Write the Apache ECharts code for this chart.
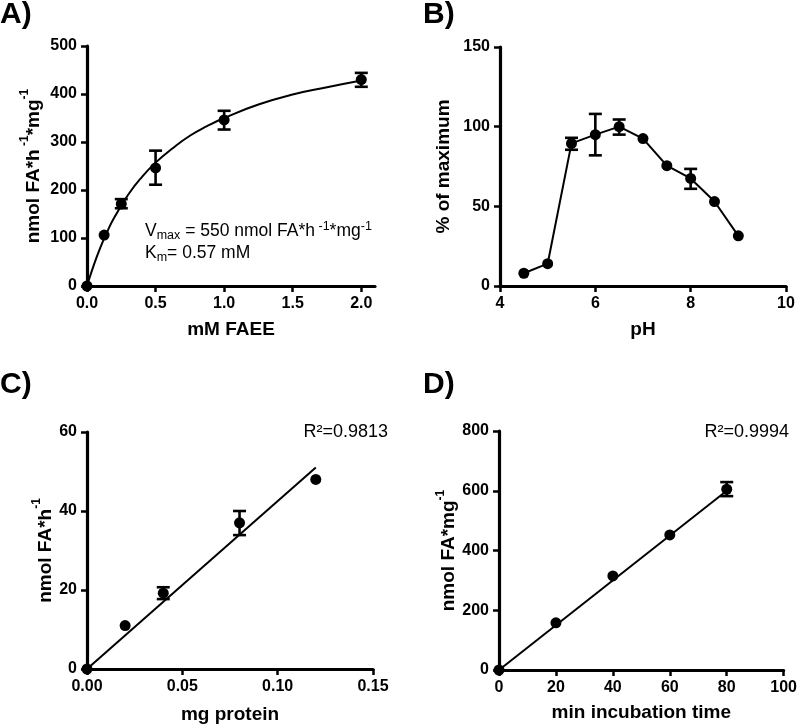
<!DOCTYPE html>
<html>
<head>
<meta charset="utf-8">
<script src="https://cdn.jsdelivr.net/npm/echarts@6/dist/echarts.min.js"></script>
<style>html,body{margin:0;padding:0;background:#fff;}#c{width:800px;height:728px;}</style>
</head>
<body>
<div id="c"></div>
<script>
// ---- Panel A: Michaelis-Menten ----
const aPoints = [[0,0],[0.125,106],[0.25,171],[0.5,246],[1.0,346],[2.0,430]];
const aErr = [[0.25,162,181],[0.5,211,282],[1.0,326,365],[2.0,415,444]];
const aCurve = [[0,0],[0.05,44],[0.1,82],[0.15,115],[0.2,143],[0.3,190],[0.4,227],[0.5,257],[0.625,287],[0.75,313],[0.875,333],[1.0,350],[1.25,378],[1.5,399],[1.75,414],[2.0,428]];
const aXTicks = [0,0.5,1,1.5,2];
const aYTicks = [0,100,200,300,400,500];
// ---- Panel B: pH ----
const bPoints = [[4.5,8],[5.0,14],[5.5,89.5],[6.0,95],[6.5,100],[7.0,92.5],[7.5,75.5],[8.0,67.5],[8.5,53],[9.0,31.5]];
const bErr = [[5.5,85.5,93],[6.0,82,108],[6.5,95,104.5],[8.0,61,73.5]];
const bXTicks = [4,6,8,10];
const bYTicks = [0,50,100,150];
// ---- Panel C: protein ----
const cPoints = [[0,0],[0.02,11],[0.04,19.2],[0.08,37],[0.12,48]];
const cErr = [[0.04,17.7,20.7],[0.08,33.9,40]];
const cFit = [[0,0],[0.12,51]];
const cXTicks = [0,0.05,0.1,0.15];
const cYTicks = [0,20,40,60];
// ---- Panel D: time ----
const dPoints = [[0,0],[20,158],[40,315],[60,452],[80,605]];
const dErr = [[80,582,629]];
const dFit = [[0,0],[80,600]];
const dXTicks = [0,20,40,60,80,100];
const dYTicks = [0,200,400,600,800];

const chart = echarts.init(document.getElementById('c'), null, {renderer:'canvas'});
const FONT = 'Liberation Sans, Arial, sans-serif';
const BLACK = '#000';
const TFS = 19;

const grids = [
  {left:87, top:46, width:288, height:240},
  {left:500, top:47, width:286, height:239},
  {left:87, top:432, width:286, height:237},
  {left:499, top:431, width:287, height:239}
];

function xAxis(i, min, max, ticks, dec, name, gap) {
  return {
    type:'value', gridIndex:i, min:min, max:max,
    name:name, nameLocation:'middle', nameGap:gap,
    nameTextStyle:{fontFamily:FONT, fontWeight:'bold', fontSize:TFS, color:BLACK},
    axisLine:{show:true, onZero:false, lineStyle:{color:BLACK, width:3.2}},
    axisTick:{show:true, inside:false, length:6, lineStyle:{color:BLACK, width:2.5}, customValues:ticks},
    axisLabel:{show:true, margin:10, fontFamily:FONT, fontWeight:'bold', fontSize:16, color:BLACK, customValues:ticks,
      formatter:(v)=> dec>0 ? Number(v).toFixed(dec) : String(Math.round(v)), showMinLabel:true, showMaxLabel:true},
    splitLine:{show:false}
  };
}
function yAxis(i, min, max, ticks, name, gap) {
  return {
    type:'value', gridIndex:i, min:min, max:max,
    name:name, nameLocation:'middle', nameGap:gap, nameRotate:90,
    nameTextStyle:{fontFamily:FONT, fontWeight:'bold', fontSize:TFS, color:BLACK,
      rich:{
        b:{fontFamily:FONT, fontWeight:'bold', fontSize:TFS, color:BLACK, lineHeight:24, verticalAlign:'bottom'},
        s:{fontFamily:FONT, fontWeight:'bold', fontSize:12, color:BLACK, lineHeight:24, verticalAlign:'top'}
      }},
    axisLine:{show:true, onZero:false, lineStyle:{color:BLACK, width:3.2}},
    axisTick:{show:true, inside:false, length:6, lineStyle:{color:BLACK, width:2.5}, customValues:ticks},
    axisLabel:{show:true, margin:10, fontFamily:FONT, fontWeight:'bold', fontSize:16, color:BLACK, customValues:ticks},
    splitLine:{show:false}
  };
}

function errSeries(i, data) {
  return {
    type:'custom', xAxisIndex:i, yAxisIndex:i, data:data, clip:false, z:5,
    encode:{x:0, y:[1,2]},
    renderItem:function(params, api){
      const x = api.value(0), lo = api.value(1), hi = api.value(2);
      const pLo = api.coord([x, lo]), pHi = api.coord([x, hi]);
      const hw = 6.5;
      const st = {stroke:BLACK, lineWidth:2.6};
      return {type:'group', children:[
        {type:'line', shape:{x1:pLo[0], y1:pLo[1], x2:pHi[0], y2:pHi[1]}, style:st},
        {type:'line', shape:{x1:pLo[0]-hw, y1:pLo[1], x2:pLo[0]+hw, y2:pLo[1]}, style:st},
        {type:'line', shape:{x1:pHi[0]-hw, y1:pHi[1], x2:pHi[0]+hw, y2:pHi[1]}, style:st}
      ]};
    }
  };
}
function pts(i, data) {
  return {type:'scatter', xAxisIndex:i, yAxisIndex:i, data:data, symbol:'circle', symbolSize:11,
    itemStyle:{color:BLACK, opacity:1}, clip:false, z:6, silent:true};
}
function line(i, data, smooth) {
  return {type:'line', xAxisIndex:i, yAxisIndex:i, data:data, smooth:smooth, showSymbol:false, symbol:'none',
    lineStyle:{color:BLACK, width:2}, clip:false, z:4, silent:true, animation:false};
}

const option = {
  animation:false,
  backgroundColor:'#fff',
  grid:grids,
  xAxis:[
    xAxis(0, 0, 2.1, aXTicks, 1, 'mM FAEE', 34),
    xAxis(1, 4, 10, bXTicks, 0, 'pH', 34),
    xAxis(2, 0, 0.15, cXTicks, 2, 'mg protein', 36),
    xAxis(3, 0, 100, dXTicks, 0, 'min incubation time', 33)
  ],
  yAxis:[
    yAxis(0, 0, 500, aYTicks, '{b|nmol FA*h}{s| -1}{b|*mg}{s|-1}', 44),
    yAxis(1, 0, 150, bYTicks, '{b|% of maximum}', 47),
    yAxis(2, 0, 60, cYTicks, '{b|nmol FA*h}{s|-1}', 32),
    yAxis(3, 0, 800, dYTicks, '{b|nmol FA*mg}{s|-1}', 40)
  ],
  series:[
    line(0, aCurve, true),
    errSeries(0, aErr),
    pts(0, aPoints),
    line(1, bPoints, false),
    errSeries(1, bErr),
    pts(1, bPoints),
    line(2, cFit, false),
    errSeries(2, cErr),
    pts(2, cPoints),
    line(3, dFit, false),
    errSeries(3, dErr),
    pts(3, dPoints)
  ],
  graphic:[
    {type:'text', left:0, top:0, style:{text:'A)', font:'bold 30px '+FONT, fill:BLACK}},
    {type:'text', left:423, top:0, style:{text:'B)', font:'bold 30px '+FONT, fill:BLACK}},
    {type:'text', left:0, top:370, style:{text:'C)', font:'bold 30px '+FONT, fill:BLACK}},
    {type:'text', left:423, top:370, style:{text:'D)', font:'bold 30px '+FONT, fill:BLACK}},
    {type:'text', left:145, top:220, style:{
      text:'{m|V}{sub|max}{m| = 550 nmol FA*h}{sup| -1}{m|*mg}{sup|-1}\n{m|K}{sub|m}{m|= 0.57 mM}',
      rich:{
        m:{fontFamily:FONT, fontSize:17.5, fill:BLACK, lineHeight:22, verticalAlign:'middle'},
        sub:{fontFamily:FONT, fontSize:12.5, fill:BLACK, lineHeight:22, verticalAlign:'bottom'},
        sup:{fontFamily:FONT, fontSize:12.5, fill:BLACK, lineHeight:22, verticalAlign:'top'}
      }}},
    {type:'text', right:412, top:423, style:{text:'R²=0.9813', font:'18px '+FONT, fill:BLACK}},
    {type:'text', right:11, top:423, style:{text:'R²=0.9994', font:'18px '+FONT, fill:BLACK}}
  ]
};
chart.setOption(option);
</script>
</body>
</html>
